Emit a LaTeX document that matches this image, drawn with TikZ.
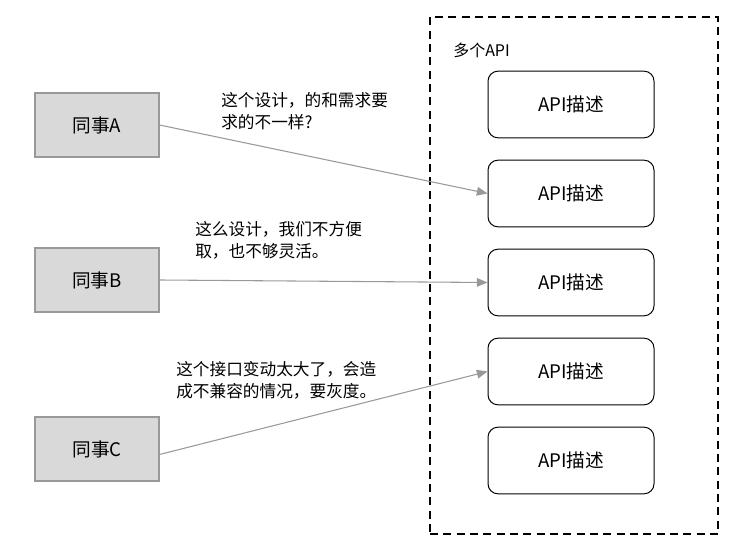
\documentclass[tikz,border=0pt]{standalone}
\usepackage{fontspec}
\setmainfont{Noto Sans CJK SC}
\usepackage{xcolor}
\usepackage{tikz}
\usetikzlibrary{positioning,arrows.meta}

\definecolor{boxgray}{HTML}{D9D9D9}
\definecolor{edgegray}{HTML}{999999}
\definecolor{linegray}{HTML}{999999}

\tikzset{
  person/.style={draw=edgegray, fill=boxgray, line width=0.9pt,
    minimum width=93pt, minimum height=48pt, font=\fontsize{14}{16}\selectfont},
  api/.style={draw, rounded corners=7.5pt, line width=0.75pt,
    minimum width=124.5pt, minimum height=50pt, font=\fontsize{14}{16}\selectfont},
  group/.style={draw, dash pattern=on 6pt off 4pt, line width=0.9pt,
    minimum width=216pt, minimum height=387.75pt},
  note/.style={align=left, anchor=west, inner sep=0pt,
    font=\fontsize{12.5}{16.5}\selectfont},
  talk/.style={draw=linegray, line width=0.8pt, -{Triangle[length=8pt,width=6.5pt]}},
}

\begin{document}
\begin{tikzpicture}[x=0.75pt, y=-0.75pt]
  \useasboundingbox (0,0) rectangle (736,548);
  % API group
  \node[group] (group) at (574,275.5) {};
  \node[anchor=west, inner sep=0pt, font=\fontsize{12}{14}\selectfont] (grouplabel) at (453,50) {多个API};
  \node[api] (api1) at (571,104.5) {API描述};
  \node[api, below=16pt of api1] (api2) {API描述};
  \node[api, below=16pt of api2] (api3) {API描述};
  \node[api, below=16pt of api3] (api4) {API描述};
  \node[api, below=16pt of api4] (api5) {API描述};
  % colleagues
  \node[person] (A) at (97,125) {同事A};
  \node[person] (B) at (97,280) {同事B};
  \node[person] (C) at (97,449) {同事C};
  % what they say
  \node[note] (noteA) at (221,111) {这个设计，的和需求要\\求的不一样?};
  \node[note] (noteB) at (195,240) {这么设计，我们不方便\\取，也不够灵活。};
  \node[note] (noteC) at (176,380) {这个接口变动太大了，会造\\成不兼容的情况，要灰度。};
  \draw[talk] (A.east) -- (api2.west);
  \draw[talk] (B.east) -- (api3.west);
  \draw[talk] (C.-5.5) -- (api4.west);
\end{tikzpicture}
\end{document}
